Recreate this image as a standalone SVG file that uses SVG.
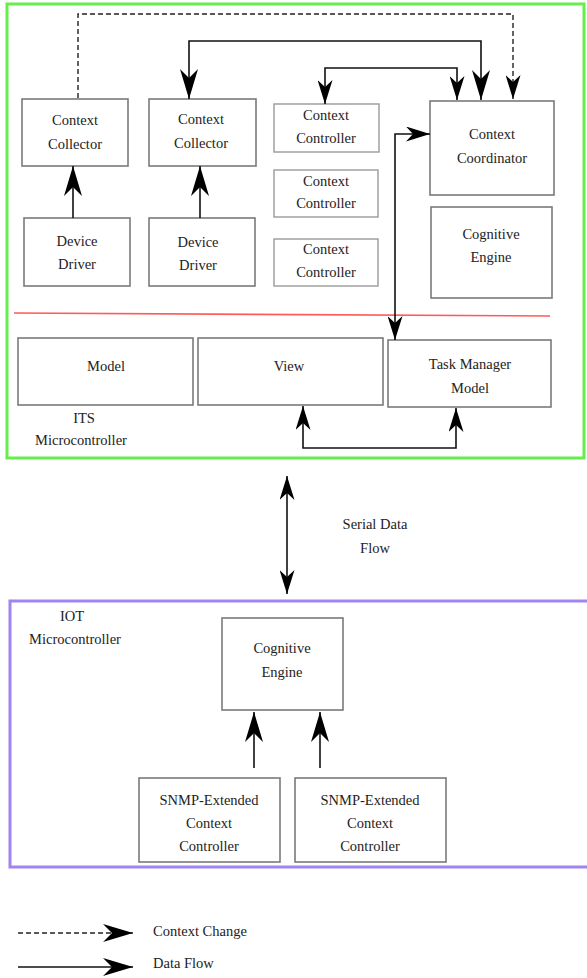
<svg xmlns="http://www.w3.org/2000/svg" width="587" height="978" viewBox="0 0 587 978" font-family="'Liberation Serif', 'DejaVu Serif', serif">
  <style>
    .box { fill: #fff; stroke: #7a7a7a; stroke-width: 1.6; }
    .lbox { fill: #fff; stroke: #9a9a9a; stroke-width: 1.4; }
    text { font-family: 'Liberation Serif', 'DejaVu Serif', serif; font-size: 14.5px; fill: #222; text-anchor: middle; }
    .left { text-anchor: start; }
    .flow { fill: none; stroke: #111; stroke-width: 1.6; }
    .ctx { fill: none; stroke: #222; stroke-width: 1.4; stroke-dasharray: 5 3; }
  </style>
  <defs>
    <marker id="big" viewBox="0 0 30 18" refX="30" refY="9" markerWidth="30" markerHeight="18" markerUnits="userSpaceOnUse" orient="auto-start-reverse">
      <path d="M0,0 L30,9 L0,18 L9,9 Z" fill="#000"/>
    </marker>
    <marker id="mid" viewBox="0 0 24 15" refX="24" refY="7.5" markerWidth="24" markerHeight="15" markerUnits="userSpaceOnUse" orient="auto-start-reverse">
      <path d="M0,0 L24,7.5 L0,15 L7,7.5 Z" fill="#000"/>
    </marker>
  </defs>

  <!-- enclosing controller regions -->
  <rect id="its-frame" x="7" y="4" width="577" height="454" fill="none" stroke="#66ee4c" stroke-width="3"/>
  <rect id="iot-frame" x="10" y="601" width="590" height="266" fill="none" stroke="#a084f0" stroke-width="3"/>
  <line x1="14" y1="313" x2="550" y2="316" stroke="#ff5a5a" stroke-width="1.6"/>

  <!-- ITS nodes -->
  <g id="context-collector-1">
    <rect class="box" x="22" y="99" width="106" height="67"/>
    <text x="75" y="125">Context</text>
    <text x="75" y="149">Collector</text>
  </g>
  <g id="context-collector-2">
    <rect class="box" x="149" y="99" width="107" height="67"/>
    <text x="201" y="124">Context</text>
    <text x="201" y="148">Collector</text>
  </g>
  <g id="device-driver-1">
    <rect class="box" x="24" y="218" width="106" height="68"/>
    <text x="77" y="246">Device</text>
    <text x="77" y="269">Driver</text>
  </g>
  <g id="device-driver-2">
    <rect class="box" x="149" y="218" width="106" height="68"/>
    <text x="198" y="247">Device</text>
    <text x="198" y="270">Driver</text>
  </g>
  <g id="context-controller-1">
    <rect class="lbox" x="274" y="104" width="105" height="48"/>
    <text x="326" y="120">Context</text>
    <text x="326" y="143">Controller</text>
  </g>
  <g id="context-controller-2">
    <rect class="lbox" x="274" y="170" width="104" height="47"/>
    <text x="326" y="186">Context</text>
    <text x="326" y="208">Controller</text>
  </g>
  <g id="context-controller-3">
    <rect class="lbox" x="274" y="239" width="104" height="47"/>
    <text x="326" y="254">Context</text>
    <text x="326" y="277">Controller</text>
  </g>
  <g id="context-coordinator">
    <rect class="box" x="430" y="101" width="124" height="94"/>
    <text x="492" y="139">Context</text>
    <text x="492" y="163">Coordinator</text>
  </g>
  <g id="cognitive-engine-its">
    <rect class="box" x="431" y="207" width="121" height="91"/>
    <text x="491" y="239">Cognitive</text>
    <text x="491" y="262">Engine</text>
  </g>
  <g id="model">
    <rect class="box" x="18" y="338" width="175" height="67"/>
    <text x="106" y="371">Model</text>
  </g>
  <g id="view">
    <rect class="box" x="198" y="338" width="185" height="67"/>
    <text x="289" y="371">View</text>
  </g>
  <g id="task-manager-model">
    <rect class="box" x="388" y="340" width="163" height="67"/>
    <text x="470" y="369">Task Manager</text>
    <text x="470" y="393">Model</text>
  </g>
  <g id="its-label">
    <text x="84" y="423">ITS</text>
    <text x="81" y="445">Microcontroller</text>
  </g>

  <!-- IOT nodes -->
  <g id="iot-label">
    <text x="72" y="621">IOT</text>
    <text x="75" y="644">Microcontroller</text>
  </g>
  <g id="cognitive-engine-iot">
    <rect class="box" x="222" y="618" width="121" height="92"/>
    <text x="282" y="653">Cognitive</text>
    <text x="282" y="677">Engine</text>
  </g>
  <g id="snmp-controller-1">
    <rect class="box" x="139" y="778" width="141" height="84"/>
    <text x="209" y="805">SNMP-Extended</text>
    <text x="209" y="828">Context</text>
    <text x="209" y="851">Controller</text>
  </g>
  <g id="snmp-controller-2">
    <rect class="box" x="295" y="778" width="151" height="84"/>
    <text x="370" y="805">SNMP-Extended</text>
    <text x="370" y="828">Context</text>
    <text x="370" y="851">Controller</text>
  </g>
  <g id="serial-label">
    <text x="375" y="529">Serial Data</text>
    <text x="375" y="553">Flow</text>
  </g>

  <!-- legend -->
  <g id="legend">
    <line class="ctx" x1="18" y1="933" x2="133" y2="933" marker-end="url(#big)"/>
    <line class="flow" x1="18" y1="967" x2="133" y2="967" marker-end="url(#big)"/>
    <text class="left" x="153" y="936">Context Change</text>
    <text class="left" x="153" y="968">Data Flow</text>
  </g>

  <!-- connectors -->
  <g id="connectors">
    <polyline class="ctx" points="78,98 78,14 513,14 513,99" marker-end="url(#mid)"/>
    <polyline class="flow" points="189,99 189,41 481,41 481,100" marker-start="url(#big)" marker-end="url(#big)"/>
    <polyline class="flow" points="325,104 325,68 457,68 457,100" marker-start="url(#mid)" marker-end="url(#mid)"/>
    <polyline class="flow" points="430,134 395,134 395,340" marker-start="url(#mid)" marker-end="url(#mid)"/>
    <line class="flow" x1="73" y1="218" x2="73" y2="166" marker-end="url(#big)"/>
    <line class="flow" x1="200" y1="218" x2="200" y2="166" marker-end="url(#big)"/>
    <polyline class="flow" points="303,406 303,448 456,448 456,408" marker-start="url(#mid)" marker-end="url(#mid)"/>
    <line class="flow" x1="287" y1="476" x2="287" y2="594" marker-start="url(#mid)" marker-end="url(#mid)"/>
    <line class="flow" x1="254" y1="768" x2="254" y2="712" marker-end="url(#big)"/>
    <line class="flow" x1="320" y1="768" x2="320" y2="712" marker-end="url(#big)"/>
  </g>
</svg>
